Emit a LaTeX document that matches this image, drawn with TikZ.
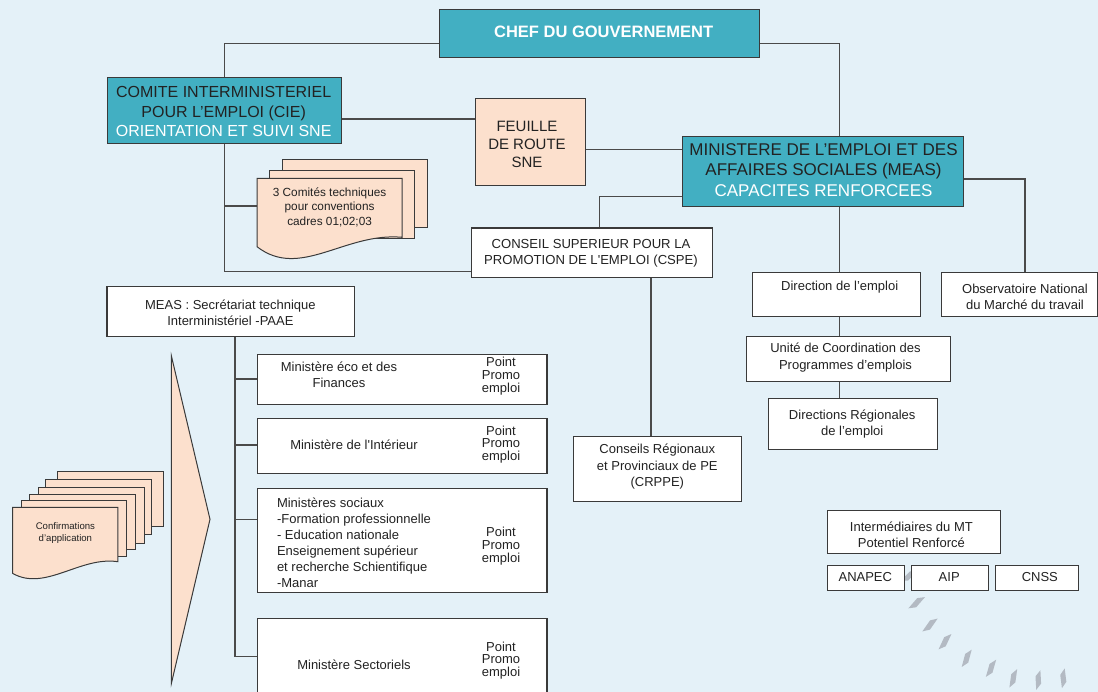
\documentclass[tikz,border=0pt]{standalone}
\usepackage{fontspec}
\setmainfont{Liberation Sans}
\definecolor{bgc}{HTML}{E4F1F8}
\definecolor{tealbox}{HTML}{42AFC2}
\definecolor{peach}{HTML}{FCE0CD}
\definecolor{bord}{HTML}{3A3A3A}
\definecolor{linec}{HTML}{4A4A4A}
\definecolor{txtc}{HTML}{222222}
\definecolor{markc}{HTML}{B3BAC3}
\pgfdeclarelayer{bglayer}
\pgfdeclarelayer{linelayer}
\pgfsetlayers{bglayer,linelayer,main}
\tikzset{
  box/.style={draw=bord, line width=1.1pt, inner sep=0pt, anchor=north west, fill=white},
  tbox/.style={box, fill=tealbox},
  pbox/.style={box, fill=peach},
  doc/.style={draw=bord, line width=1pt, fill=peach},
  conn/.style={draw=linec, line width=1.2pt},
  txt/.style={inner sep=0pt, align=center, text=txtc},
  fA/.style={font=\fontsize{13}{16}\selectfont},
  fP/.style={font=\fontsize{13}{12.7}\selectfont},
}
\begin{document}
\begin{tikzpicture}[x=1pt,y=-1pt]
\useasboundingbox (0,0) rectangle (1098,692);
\begin{pgfonlayer}{bglayer}
\fill[bgc] (0,0) rectangle (1098,692);
\foreach \x/\y/\a in {909/576/30, 916.7/602.7/34, 930/625/40, 945/641.7/50, 966.7/658.3/60, 991/668.3/59, 1013.3/678.3/67, 1038.3/680/78, 1063.3/678.3/82}
  \fill[markc, shift={(\x,\y)}, rotate=\a] (-10,0) -- (3,-3.5) -- (10,0) -- (-3,3.5) -- cycle;
\end{pgfonlayer}

% top level boxes
\node[tbox, minimum width=320pt, minimum height=48pt] (chef) at (439.3,9.3) {};
\node[txt, text=white, font=\fontsize{16.5}{19}\selectfont\bfseries] (chefT) at (603.7,31.7) {CHEF DU GOUVERNEMENT};

\node[tbox, minimum width=234.5pt, minimum height=66pt] (cie) at (106.5,77.3) {};
\node[txt, font=\fontsize{16}{19.5}\selectfont] (cieT) at (223.7,111.5) {COMITE INTERMINISTERIEL\\POUR L’EMPLOI (CIE)\\\textcolor{white}{ORIENTATION ET SUIVI SNE}};

\node[pbox, minimum width=110pt, minimum height=86.7pt] (feuille) at (475,98.3) {};
\node[txt, font=\fontsize{15}{18}\selectfont] (feuilleT) at (527,144.6) {FEUILLE\\DE ROUTE\\SNE};

\node[tbox, minimum width=280.4pt, minimum height=70pt] (meas) at (682.3,136) {};
\node[txt, font=\fontsize{17}{20.7}\selectfont] (measT) at (823.5,170) {MINISTERE DE L’EMPLOI ET DES\\AFFAIRES SOCIALES (MEAS)\\\textcolor{white}{CAPACITES RENFORCEES}};

\node[box, minimum width=240.7pt, minimum height=49.2pt] (cspe) at (471,227.5) {};
\node[txt, font=\fontsize{13.1}{16.7}\selectfont] (cspeT) at (591,253.3) {CONSEIL SUPERIEUR POUR LA\\PROMOTION DE L\textquotesingle EMPLOI (CSPE)};

\node[box, minimum width=167.7pt, minimum height=44pt] (dir) at (752.3,271.7) {};
\node[txt, fA] (dirT) at (839.7,287.3) {Direction de l’emploi};

\node[box, minimum width=156pt, minimum height=44pt] (obs) at (941,271.7) {};
\node[txt, fA] (obsT) at (1025,297.3) {Observatoire National\\du Marché du travail};

\node[box, minimum width=204.2pt, minimum height=45pt] (unite) at (745.6,336) {};
\node[txt, font=\fontsize{13}{17}\selectfont] (uniteT) at (845.5,358) {Unité de Coordination des\\Programmes d’emplois};

\node[box, minimum width=168.8pt, minimum height=50.4pt] (dr) at (768,398.3) {};
\node[txt, fA] (drT) at (852.2,423.7) {Directions Régionales\\de l’emploi};

\node[box, minimum width=168.5pt, minimum height=65pt] (crppe) at (572.7,435.7) {};
\node[txt, font=\fontsize{13}{16.7}\selectfont] (crppeT) at (657.3,466.7) {Conseils Régionaux\\et Provinciaux de PE\\(CRPPE)};

\node[box, minimum width=173.4pt, minimum height=42.7pt] (inter) at (826.6,510) {};
\node[txt, fA] (interT) at (911.4,534.7) {Intermédiaires du MT\\Potentiel Renforcé};

\node[box, minimum width=77.3pt, minimum height=25.3pt] (anapec) at (826.6,564.7) {};
\node[txt, fA] (anapecT) at (865.3,577.3) {ANAPEC};
\node[box, minimum width=77.3pt, minimum height=25.3pt] (aip) at (910.7,564.7) {};
\node[txt, fA] (aipT) at (949.2,577.3) {AIP};
\node[box, minimum width=83.4pt, minimum height=25.3pt] (cnss) at (994.8,564.7) {};
\node[txt, fA] (cnssT) at (1039.8,577.3) {CNSS};

% secretariat and ministries
\node[box, minimum width=247.9pt, minimum height=50.3pt] (sec) at (106.4,285.7) {};
\node[txt, fA] (secT) at (230.4,312.3) {MEAS : Secrétariat technique\\Interministériel -PAAE};

\node[box, minimum width=289.3pt, minimum height=50.3pt] (b1) at (257.1,354) {};
\node[txt, font=\fontsize{13}{15.6}\selectfont] (b1T) at (339,374.5) {Ministère éco et des\\Finances};
\node[txt, fP] (b1P) at (501,376) {Point\\Promo\\emploi};

\node[box, minimum width=289.3pt, minimum height=55pt] (b2) at (257.1,417.7) {};
\node[txt, fA] (b2T) at (354,444.3) {Ministère de l\textquotesingle Intérieur};
\node[txt, fP] (b2P) at (501,444.5) {Point\\Promo\\emploi};

\node[box, minimum width=289.3pt, minimum height=104.6pt] (b3) at (257.1,487.7) {};
\node[txt, fA, align=left, anchor=west] (b3T) at (276.8,542.3) {Ministères sociaux\\-Formation professionnelle\\- Education nationale\\Enseignement supérieur\\et recherche Schientifique\\-Manar};
\node[txt, fP] (b3P) at (501,546.3) {Point\\Promo\\emploi};

\node[box, minimum width=289.3pt, minimum height=80pt] (b4) at (257.1,617.7) {};
\node[txt, fA] (b4T) at (354,664.3) {Ministère Sectoriels};
\node[txt, fP] (b4P) at (501,660.6) {Point\\Promo\\emploi};

% big chevron
\filldraw[doc] (171.4,356) -- (210,519.3) -- (171.4,683.3) -- cycle;

% CIE document stack
\filldraw[doc] (282,160) rectangle (427,228);
\filldraw[doc] (269,170.7) rectangle (414,238.7);
\filldraw[doc] (257,178.3) -- (402,178.3) -- (402,237.3) .. controls (345,232) and (300,280) .. (257,246.7) -- cycle;
\coordinate (docA) at (257,206);
\node[txt, font=\fontsize{11.8}{14.5}\selectfont] (docAT) at (329.6,207.3) {3 Comités techniques\\pour conventions\\cadres 01;02;03};

% confirmations stack
\filldraw[doc] (57.1,471.7) rectangle (163.2,526.7);
\filldraw[doc] (45.7,479) rectangle (151.8,534.3);
\filldraw[doc] (38.6,487.3) rectangle (144.6,543.3);
\filldraw[doc] (29.3,494.3) rectangle (135,549.3);
\filldraw[doc] (21.4,500) rectangle (126.8,556);
\filldraw[doc] (12.5,507.3) -- (117.9,507.3) -- (117.9,561.7) .. controls (80,556) and (45,592) .. (12.5,573.3) -- cycle;
\node[txt, font=\fontsize{9.6}{12}\selectfont] (docBT) at (65.4,533.3) {Confirmations\\d’application};

% connectors
\begin{pgfonlayer}{linelayer}
\draw[conn] (cie.north) |- (chef.west |- 0,43.3);
\draw[conn] (chef.east |- 0,43.3) -| (meas.north -| 839.3,0);
\draw[conn] (cie.east |- 0,119) -- (feuille.west |- 0,119);
\draw[conn] (feuille.east |- 0,149.5) -- (meas.west |- 0,149.5);
\draw[conn] (cspe.north -| 599.4,0) |- (meas.west |- 0,196.7);
\draw[conn] (cie.south) |- (cspe.west |- 0,271.7);
\draw[conn] (cie.south |- docA) -- (docA);
\draw[conn] (meas.south -| 839.3,0) -- (dir.north -| 839.3,0);
\draw[conn] (meas.east |- 0,179) -| (obs.north -| 1025,0);
\draw[conn] (dir.south -| 839.5,0) -- (unite.north -| 839.5,0);
\draw[conn] (unite.south -| 839.5,0) -- (dr.north -| 839.5,0);
\draw[conn] (cspe.south -| 651,0) -- (crppe.north -| 651,0);
\draw[conn] (sec.south -| 235,0) |- (b4.west |- 0,656.7);
\coordinate (t1) at (235,379);
\coordinate (t2) at (235,445);
\coordinate (t3) at (235,519.3);
\draw[conn] (t1) -- (b1.west |- t1);
\draw[conn] (t2) -- (b2.west |- t2);
\draw[conn] (t3) -- (b3.west |- t3);
\end{pgfonlayer}
\end{tikzpicture}
\end{document}
